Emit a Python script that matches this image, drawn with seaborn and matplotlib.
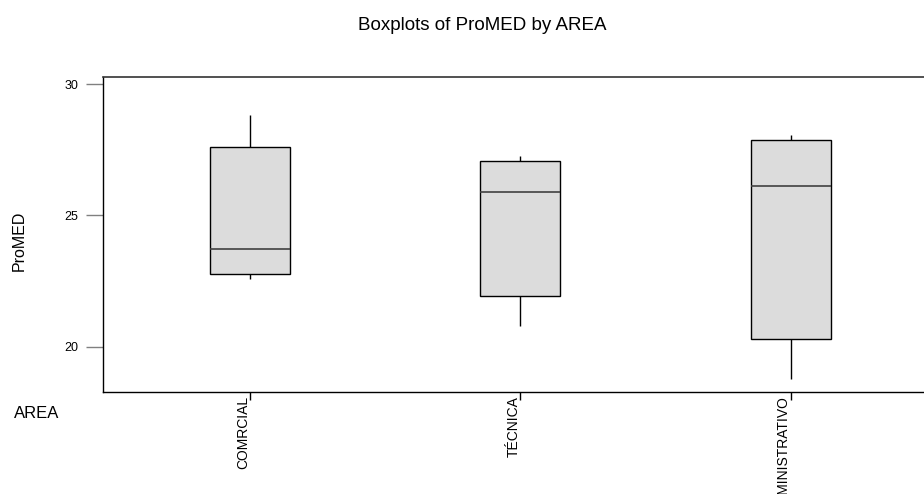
import numpy as np
import pandas as pd
import matplotlib
matplotlib.use("Agg")
import matplotlib.pyplot as plt
import seaborn as sns

# five-number summaries (min, q1, median, q3, max)
areas = ["COMRCIAL", "TÉCNICA", "ADMINISTRATIVO"]
comrcial = [22.58, 22.79, 23.72, 27.60, 28.82]
tecnica = [20.79, 21.93, 25.89, 27.06, 27.27]
administrativo = [18.76, 20.29, 26.12, 27.87, 28.06]
y_ticks = [20, 25, 30]

df = pd.DataFrame({
    "AREA": np.repeat(areas, 5),
    "ProMED": comrcial + tecnica + administrativo,
})

sns.set_style("white")
plt.rcParams["font.family"] = ["Liberation Sans", "DejaVu Sans"]
plt.rcParams["text.color"] = "black"
plt.rcParams["axes.labelcolor"] = "black"
plt.rcParams["xtick.color"] = "black"
plt.rcParams["ytick.color"] = "black"

W, H = 924, 494
fig = plt.figure(figsize=(W / 100, H / 100), dpi=100)
# axes box: left 103, top 77, bottom 392, runs off the right edge
ax = fig.add_axes([103 / W, (H - 392) / H, (935 - 103) / W, (392 - 77) / H])

sns.boxplot(data=df, x="AREA", y="ProMED", order=areas, ax=ax,
            width=0.296, whis=np.inf, showcaps=False, color="#dcdcdc",
            saturation=1,
            boxprops=dict(facecolor="#dcdcdc", edgecolor="black", linewidth=1),
            medianprops=dict(color="#404040", linewidth=1.2),
            whiskerprops=dict(color="black", linewidth=1))

ax.set_ylim(18.28, 30.27)
ax.set_xlim(-0.543, (935 - 250) / 270.5)
ax.set_yticks(y_ticks)
ax.set_yticklabels([str(t) for t in y_ticks], fontsize=9)

for s in ["left", "bottom"]:
    ax.spines[s].set_color("black")
    ax.spines[s].set_linewidth(1)
ax.spines["top"].set_color("#333333")
ax.spines["top"].set_linewidth(1.2)
ax.spines["right"].set_visible(False)

ax.tick_params(axis="y", direction="out", length=12, width=1, color="#808080",
               labelcolor="black", pad=6, left=True)
ax.tick_params(axis="x", direction="out", length=6, width=1, color="black",
               labelcolor="black", pad=-3, bottom=True)
for lab in ax.get_xticklabels():
    lab.set_rotation(90)
    lab.set_ha("right")
    lab.set_va("top")
    lab.set_fontsize(10)

ax.set_xlabel("AREA", fontsize=12, ha="left", va="center")
ax.xaxis.set_label_coords(-(103 - 14) / 832, -(413 - 392) / 315)
ax.set_ylabel("ProMED", fontsize=11.5, ha="center", va="center")
ax.yaxis.set_label_coords(-(103 - 19) / 832, (392 - 241) / 315)

fig.text(482 / W, 1 - 30 / H, "Boxplots of ProMED by AREA", fontsize=13.5,
         ha="center", va="baseline")

fig.savefig("out.png", dpi=100)
